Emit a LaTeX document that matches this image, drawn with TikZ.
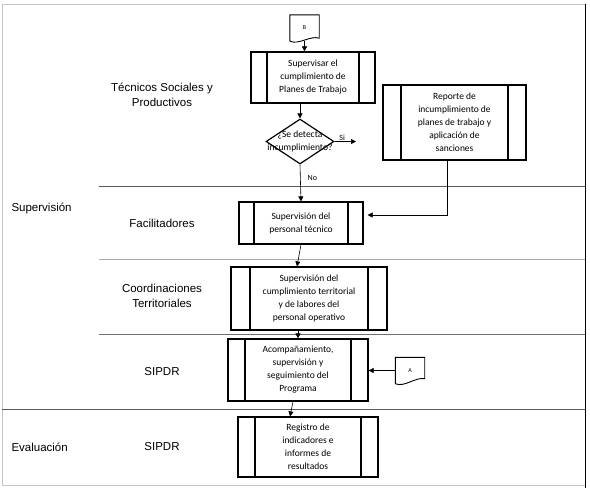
\documentclass[tikz,border=0pt]{standalone}
\usepackage{fontspec}
\setmainfont{Carlito}
\newfontfamily\lanefamily{Liberation Sans}
\usetikzlibrary{arrows.meta,shapes.geometric,calc}
\definecolor{framegray}{HTML}{C4C4C4}
\definecolor{lanedark}{HTML}{5A5A5A}
\definecolor{lanemid}{HTML}{707070}
\definecolor{lanelight}{HTML}{ACACAC}
\newcommand\procfont{\fontsize{9.5pt}{13pt}\selectfont}
\newcommand\lanefont{\lanefamily\fontsize{11.5pt}{15pt}\selectfont}
\tikzset{
  proc/.style={draw,line width=1.2pt,align=center,font=\procfont,inner sep=0pt,
    path picture={\draw[line width=1.2pt]
      ([xshift=#1]path picture bounding box.north west) -- ([xshift=#1]path picture bounding box.south west)
      ([xshift=-#1]path picture bounding box.north east) -- ([xshift=-#1]path picture bounding box.south east);}},
  decision/.style={diamond,draw,line width=1.2pt,inner sep=0pt,minimum width=68pt,minimum height=45pt},
  docnode/.style={inner sep=0pt,minimum width=29pt,minimum height=26pt,font=\fontsize{6pt}{7pt}\selectfont},
  docline/.style={line width=0.9pt},
  lane/.style={font=\lanefont,align=center},
  arrow/.style={-{Triangle[length=5pt,width=5pt]},line width=0.6pt},
  note/.style={font=\procfont,align=center},
  small/.style={font=\fontsize{8pt}{9pt}\selectfont,inner sep=1pt}
}

\begin{document}
\begin{tikzpicture}[x=1pt,y=-1pt]
  \useasboundingbox (0,0) rectangle (590,490);

  % swimlanes
  \draw[framegray] (585,4) -- (2,4) -- (2,485) -- (585,485);
  \draw[line width=0.9pt] (585,4) -- (585,488);
  \draw[lanedark] (99,186) -- (585,186);
  \draw[lanelight] (99,259) -- (585,259);
  \draw[lanemid] (99,334) -- (585,334);
  \draw[lanedark] (2,409) -- (585,409);

  \node[lane,anchor=west] (supv) at (8,208) {Supervisión};
  \node[lane,anchor=west] (eval) at (8,447) {Evaluación};
  \node[lane] (tec) at (162,95) {Técnicos Sociales y\\Productivos};
  \node[lane] (faclane) at (162,223) {Facilitadores};
  \node[lane] (coordlane) at (162,296) {Coordinaciones\\Territoriales};
  \node[lane] (siplane) at (162,372) {SIPDR};
  \node[lane] (evallane) at (162,447) {SIPDR};

  % flow
  \node[docnode] (B) at (304.5,28) {B};
  \draw[docline] (B.south west) -- (B.north west) -- (B.north east) -- ([yshift=3pt]B.south east)
    .. controls ([xshift=-9pt,yshift=6pt]B.south east) and ([xshift=9pt,yshift=-4pt]B.south west) .. (B.south west);
  \node[proc=16pt,minimum width=124pt,minimum height=51pt] (sup) at (313,77.5) {Supervisar el\\cumplimiento de\\Planes de Trabajo};
  \node[decision,label={[note]center:{¿Se detecta\\incumplimiento?}}] (dec) at (300,141.5) {};
  \node[proc=18pt,minimum width=143pt,minimum height=75pt] (rep) at (454.5,122.5) {Reporte de\\incumplimiento de\\planes de trabajo y\\aplicación de\\sanciones};
  \coordinate (siend) at (356,141.5);
  \node[proc=15pt,minimum width=124pt,minimum height=42pt] (fac) at (301,223) {Supervisión del\\personal técnico};
  \node[proc=19pt,minimum width=156pt,minimum height=63pt] (coord) at (309,298.5) {Supervisión del\\cumplimiento territorial\\y de labores del\\personal operativo};
  \node[proc=17pt,minimum width=140pt,minimum height=62pt] (sip) at (298,370) {Acompañamiento,\\supervisión y\\seguimiento del\\Programa};
  \node[docnode] (A) at (410,370.5) {A};
  \draw[docline] (A.south west) -- (A.north west) -- (A.north east) -- ([yshift=5pt]A.south east)
    .. controls ([xshift=-9pt,yshift=7pt]A.south east) and ([xshift=9pt,yshift=-4pt]A.south west) .. (A.south west);
  \node[proc=17pt,minimum width=140pt,minimum height=60pt] (reg) at (308,447) {Registro de\\indicadores e\\informes de\\resultados};

  \draw[arrow] (B.south) -- (B.south |- sup.north);
  \draw[arrow] (dec.north |- sup.south) -- (dec.north);
  \draw[arrow] (dec.east) -- node[small,above,pos=0.35] {Si} (siend);
  \draw[arrow] (dec.south) -- node[small,right=6pt,pos=0.35] {No} (fac.north);
  \draw[arrow] ([xshift=-7.5pt]rep.south) |- ([xshift=4pt,yshift=8pt]fac.east);
  \draw[arrow] (fac.south) -- ([xshift=-4pt]fac.south |- coord.north);
  \draw[arrow] (sip.north |- coord.south) -- (sip.north);
  \draw[arrow] (A.west) -- (A.west -| sip.east);
  \draw[arrow] ([xshift=-5pt]sip.south) -- ([xshift=-18pt]reg.north);
\end{tikzpicture}
\end{document}
